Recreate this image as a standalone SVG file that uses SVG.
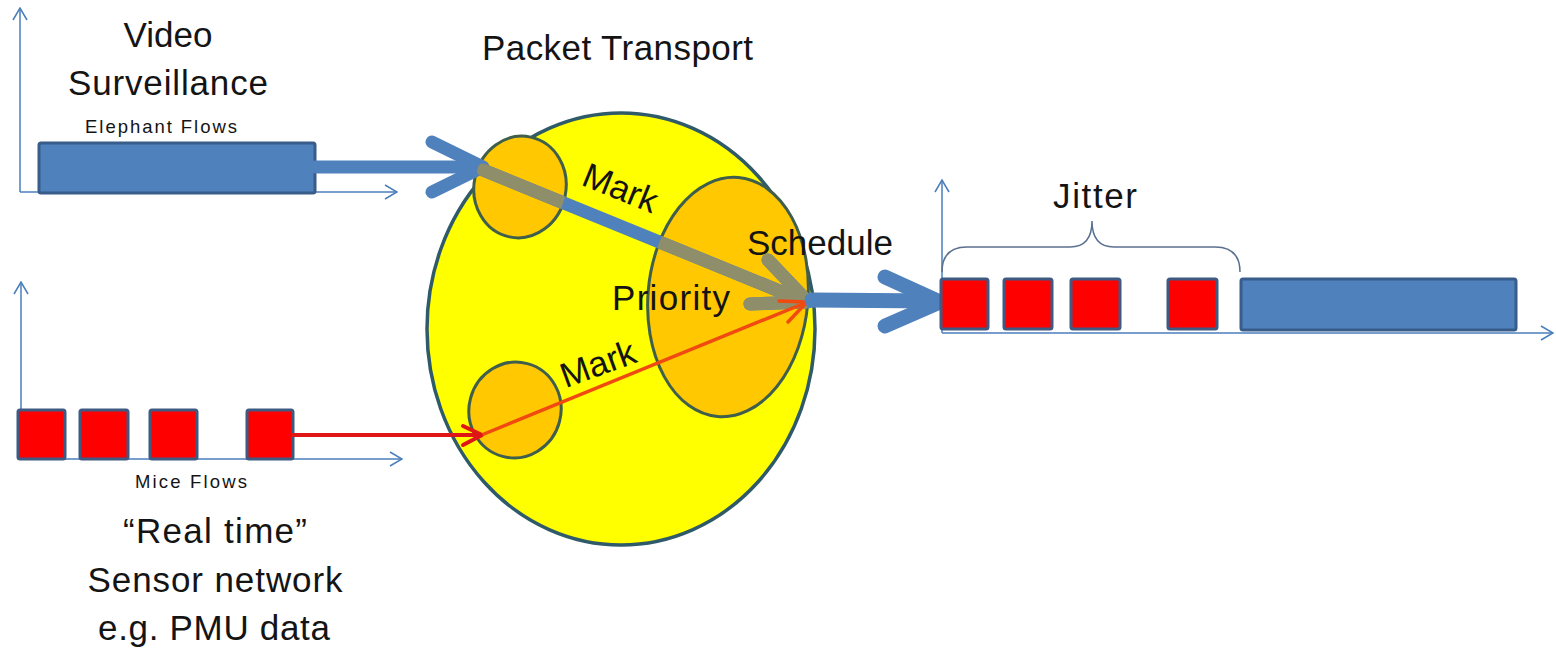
<svg xmlns="http://www.w3.org/2000/svg" width="1556" height="650" viewBox="0 0 1556 650">
<style>
.axis{stroke:#4A7EBB;stroke-width:1.5;fill:none}
.t{font-family:"Liberation Sans",Arial,sans-serif;fill:#141414}
.big{font-size:35px}
.small{font-size:18.5px}
.sq{fill:#FF0000;stroke:#3E5A82;stroke-width:3}
.bar{fill:#4F81BD;stroke:#385D8A;stroke-width:3}
.ell{fill:#FFC800;stroke:#3F5E4C;stroke-width:3}
.thick{fill:none;stroke-linecap:round;stroke-linejoin:round}
</style>
<defs>
<marker id="ah" viewBox="0 0 14 16" refX="13" refY="8" markerWidth="14" markerHeight="16" markerUnits="userSpaceOnUse" orient="auto">
<path d="M1,1 L13,8 L1,15" fill="none" stroke="#4A7EBB" stroke-width="1.5"/>
</marker>
<clipPath id="inEll">
<ellipse cx="520" cy="187" rx="46" ry="51" transform="rotate(12 520 187)"/>
<ellipse cx="728" cy="297" rx="80" ry="120" transform="rotate(5 728 297)"/>
</clipPath>
</defs>
<rect width="1556" height="650" fill="#FFFFFF"/>

<g id="axes">
<path class="axis" d="M20,192 L20,8" marker-end="url(#ah)"/>
<path class="axis" d="M20,192 L397,192" marker-end="url(#ah)"/>
<path class="axis" d="M21,459 L21,282" marker-end="url(#ah)"/>
<path class="axis" d="M21,459 L402,459" marker-end="url(#ah)"/>
<path class="axis" d="M942,333 L942,180" marker-end="url(#ah)"/>
<path class="axis" d="M942,333 L1553,333" marker-end="url(#ah)"/>
</g>

<g id="video-surveillance">
<text class="t big" x="168" y="47" text-anchor="middle">Video</text>
<text class="t big" x="168" y="95" text-anchor="middle" textLength="200">Surveillance</text>
<text class="t small" x="85" y="133" textLength="152">Elephant Flows</text>
<rect class="bar" x="39" y="143" width="276" height="50" rx="2"/>
</g>

<g id="sensor-network">
<rect class="sq" x="18" y="410" width="47" height="49" rx="2"/>
<rect class="sq" x="80" y="410" width="48" height="49" rx="2"/>
<rect class="sq" x="150" y="410" width="47" height="49" rx="2"/>
<rect class="sq" x="247" y="410" width="46" height="49" rx="2"/>
<text class="t small" x="135" y="488" textLength="112">Mice Flows</text>
<text class="t big" x="215" y="543" text-anchor="middle" textLength="184">“Real time”</text>
<text class="t big" x="215" y="592" text-anchor="middle" textLength="255">Sensor network</text>
<text class="t big" x="214" y="640" text-anchor="middle" textLength="232">e.g. PMU data</text>
</g>

<g id="packet-transport">
<text class="t big" x="482" y="60" textLength="271">Packet Transport</text>
<ellipse cx="621" cy="329" rx="194" ry="216" fill="#FFFF00" stroke="#2F5A6A" stroke-width="3.5"/>
</g>

<g id="mark-elephant">
<ellipse class="ell" cx="520" cy="187" rx="46" ry="51" transform="rotate(12 520 187)"/>
</g>
<g id="mark-mice">
<ellipse class="ell" cx="515" cy="410" rx="46" ry="48" transform="rotate(15 515 410)"/>
</g>
<g id="schedule-priority">
<ellipse class="ell" cx="728" cy="297" rx="80" ry="120" transform="rotate(5 728 297)"/>
</g>

<g id="connectors">
<g class="thick" stroke="#4F81BD" stroke-width="13">
<path d="M315,167 L478,167"/>
<path d="M432,142 L483,167 L432,192"/>
<path d="M483,170 L804,301"/>
<path d="M768,260 L808,302 L750,304"/>
</g>
<g class="thick" stroke="#8E8E6A" stroke-width="13" clip-path="url(#inEll)">
<path d="M483,170 L804,301"/>
<path d="M768,260 L808,302 L750,304"/>
</g>
<g class="thick" stroke="#E01515" stroke-width="4">
<path d="M293,435 L479,435"/>
<path d="M463,426 L482,435 L463,445"/>
</g>
<g class="thick" stroke="#F04A10" stroke-width="3.5">
<path d="M484,434 L805,303"/>
<path d="M788,322 L807,302 L779,301"/>
</g>
<g class="thick" stroke="#4F81BD" stroke-width="15">
<path d="M812,300 L935,301"/>
<path d="M885,277 L940,302 L885,326"/>
</g>
</g>

<g id="labels-transport">
<text class="t big" x="616" y="199" text-anchor="middle" transform="rotate(22 616 199)">Mark</text>
<text class="t big" x="602" y="375" text-anchor="middle" transform="rotate(-20 602 375)">Mark</text>
<text class="t big" x="747" y="255" textLength="146">Schedule</text>
<text class="t big" x="612" y="310" textLength="118">Priority</text>
</g>

<g id="output-jitter">
<text class="t big" x="1095" y="208" text-anchor="middle" textLength="84">Jitter</text>
<path d="M942,272 Q942,247 967,247 L1070,247 Q1092,247 1092,221 Q1092,247 1114,247 L1215,247 Q1240,247 1240,272" fill="none" stroke="#5A7090" stroke-width="1.5"/>
<rect class="sq" x="941" y="279" width="47" height="50" rx="2"/>
<rect class="sq" x="1004" y="279" width="48" height="50" rx="2"/>
<rect class="sq" x="1071" y="279" width="49" height="50" rx="2"/>
<rect class="sq" x="1168" y="279" width="49" height="50" rx="2"/>
<rect class="bar" x="1241" y="279" width="275" height="51" rx="2"/>
</g>
</svg>
